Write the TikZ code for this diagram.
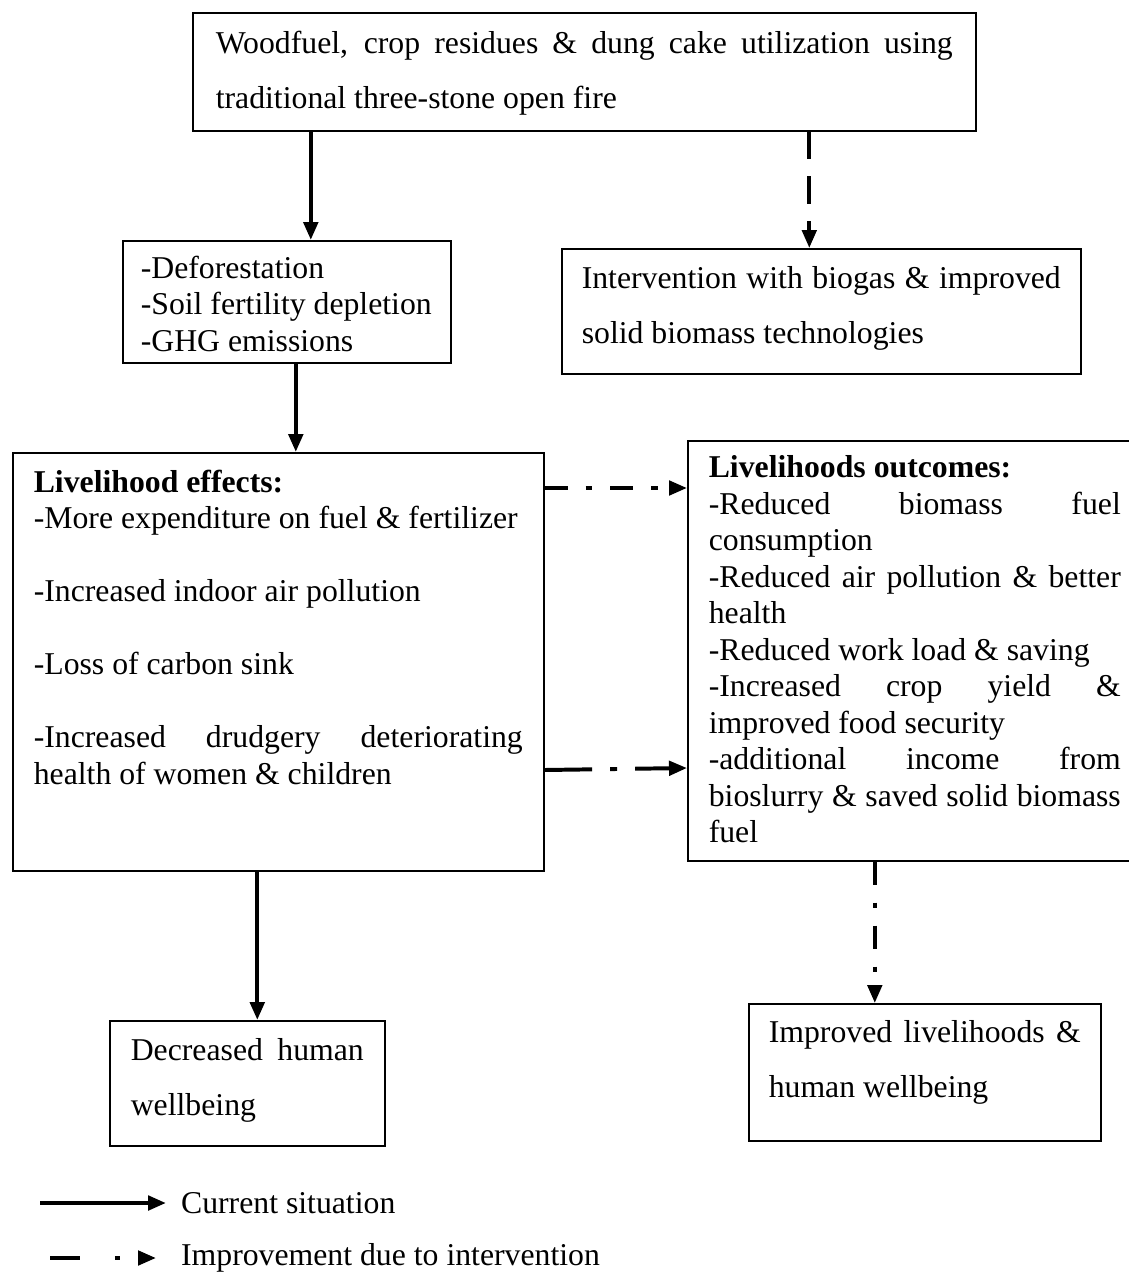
\documentclass[tikz,border=0pt]{standalone}
\usepackage{fontspec}
\setmainfont{Liberation Serif}
\usetikzlibrary{arrows.meta,calc}
\newdimen\pxu \pxu=0.378pt

\begin{document}
\begin{tikzpicture}[x=0.378pt,y=-0.378pt,
    txt/.style={font=\fontsize{12pt}{13.8pt}\selectfont},
    box/.style={draw,line width=0.6pt,anchor=north west,txt},
    wide/.style={font=\fontsize{12pt}{20.8pt}\selectfont},
    current/.style={line width=1.6pt,-{Triangle[length=6.8pt,width=5.4pt]}},
    improve/.style={line width=1.5pt,-{Triangle[length=6.8pt,width=5.4pt]}}]
  \useasboundingbox (0,0) rectangle (1128,1274);
  \fill[white] (0,0) rectangle (1128,1274);

  % boxes
  \node[box,wide,inner xsep=23\pxu,inner ysep=18\pxu] (wood) at (192,12)
    {\parbox[c][82\pxu][t]{737\pxu}{Woodfuel, crop residues \& dung cake utilization using\linebreak traditional three-stone open fire}};
  \node[box,inner xsep=18\pxu,inner ysep=15\pxu] (defor) at (122,240)
    {\parbox[c][92\pxu][t]{292\pxu}{-Deforestation\\ -Soil fertility depletion\\ -GHG emissions}};
  \node[box,wide,inner xsep=20\pxu,inner ysep=18\pxu] (interv) at (561,248)
    {\parbox[c][89\pxu][t]{479\pxu}{Intervention with biogas \& improved\linebreak solid biomass technologies}};
  \node[box,inner xsep=21\pxu,inner ysep=17\pxu] (effects) at (12,452)
    {\parbox[c][384\pxu][t]{489\pxu}{\textbf{Livelihood effects:}\\ -More expenditure on fuel \& fertilizer\\[13.8pt]
     -Increased indoor air pollution\\[13.8pt] -Loss of carbon sink\\[13.8pt]
     -Increased drudgery deteriorating\linebreak health of women \& children}};
  \node[box,inner xsep=21\pxu,inner ysep=15\pxu] (outcomes) at (687,440)
    {\parbox[c][390\pxu][t]{412\pxu}{\textbf{Livelihoods outcomes:}\\ -Reduced biomass fuel\linebreak consumption\\
     -Reduced air pollution \& better\linebreak health\\ -Reduced work load \& saving\\
     -Increased crop yield \&\linebreak improved food security\\
     -additional income from\linebreak bioslurry \& saved solid biomass\linebreak fuel}};
  \node[box,wide,inner xsep=21\pxu,inner ysep=18\pxu] (decreased) at (109,1020)
    {\parbox[c][89\pxu][t]{233\pxu}{Decreased human\linebreak wellbeing}};
  \node[box,wide,inner xsep=20\pxu,inner ysep=17\pxu] (improved) at (748,1003)
    {\parbox[c][103\pxu][t]{312\pxu}{Improved livelihoods \&\linebreak human wellbeing}};

  % arrows
  \draw[current] ($(defor.north |- wood.south)+(24,0)$) -- ($(defor.north)+(24,0)$);
  \draw[improve,dash pattern=on 10.5pt off 6.4pt] ($(interv.north |- wood.south)+(-12,0)$) -- ($(interv.north)+(-12,0)$);
  \draw[current] ($(defor.south)+(9,0)$) -- ($(defor.south |- effects.north)+(9,0)$);
  \draw[improve,dash pattern=on 8.7pt off 6.8pt on 2.6pt off 6.8pt] ($(effects.north east)+(0,36)$) -- ($(outcomes.north west)+(0,48)$);
  \draw[improve,dash pattern=on 18pt off 6.8pt on 2.6pt off 6.8pt] ($(effects.north east)+(0,318)$) -- ($(outcomes.north west)+(0,328)$);
  \draw[current] ($(effects.south -| decreased.north)+(10,0)$) -- ($(decreased.north)+(10,0)$);
  \draw[improve,dash pattern=on 8.7pt off 6.8pt on 1.9pt off 6.8pt] ($(improved.north |- outcomes.south)+(-50,0)$) -- ($(improved.north)+(-50,0)$);

  % legend
  \node[txt,anchor=west,inner sep=4pt] (cur) at (170,1203) {Current situation};
  \coordinate (curS) at (40,1203);
  \draw[current,shorten >=4\pxu] (curS) -- (cur.west);
  \node[txt,anchor=west,inner sep=4pt] (imp) at (170,1258) {Improvement due to intervention};
  \coordinate (impS) at (50,1258);
  \draw[improve,shorten >=14\pxu,dash pattern=on 11.3pt off 13.2pt on 1.9pt off 13pt] (impS) -- (imp.west);
\end{tikzpicture}
\end{document}
